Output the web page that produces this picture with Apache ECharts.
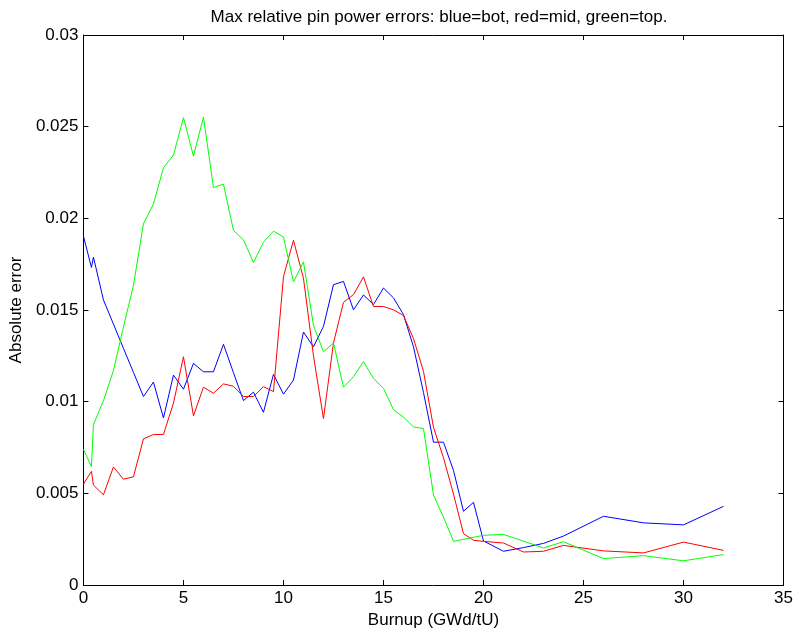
<!DOCTYPE html>
<html>
<head>
<meta charset="utf-8">
<script src="https://cdn.jsdelivr.net/npm/echarts@6/dist/echarts.min.js"></script>
<style>
  html, body { margin: 0; padding: 0; background: #fff; }
  #chart { width: 796px; height: 634px; }
</style>
</head>
<body>
<div id="chart"></div>
<script>
// Burnup points (GWd/tU) for each axial zone
const burnupBot = [0, 0.4, 0.5, 1, 1.5, 2, 2.5, 3, 3.5, 4, 4.5, 5, 5.5, 6, 6.5, 7, 7.5, 8, 8.5, 9, 9.5, 10,
  10.5, 11, 11.5, 12, 12.5, 13, 13.5, 14, 14.5, 15, 15.5, 16, 16.5, 17, 17.5, 18, 18.5, 19, 19.5, 20,
  21, 22, 23, 24, 26, 28, 30, 32];
const burnupMid = burnupBot.slice();
const burnupTop = [0, 0.4, 0.5, 1, 1.5, 2, 2.5, 3, 3.5, 4, 4.5, 5, 5.5, 6, 6.5, 7, 7.5, 8, 8.5, 9, 9.5, 10,
  10.5, 11, 11.5, 12, 12.5, 13, 13.5, 14, 14.5, 15, 15.5, 16, 16.5, 17, 17.5, 18, 18.5,
  20, 21, 23, 24, 26, 28, 30, 32];

// Max relative pin power errors
const errBot = [0.01903, 0.01732, 0.01789, 0.01555, 0.01423, 0.01291, 0.0116, 0.01028, 0.01107, 0.00911,
  0.01145, 0.01068, 0.01209, 0.01163, 0.01163, 0.01313, 0.01158, 0.01006, 0.01052, 0.00942, 0.01149,
  0.01041, 0.01118, 0.0138, 0.01299, 0.01411, 0.01638, 0.01656, 0.01501, 0.01582, 0.0153, 0.0162,
  0.01566, 0.01475, 0.01299, 0.0105, 0.00779, 0.00779, 0.00625, 0.00402, 0.00451, 0.0024,
  0.00184, 0.00204, 0.00227, 0.00267, 0.00375, 0.00339, 0.00328, 0.00429];
const errMid = [0.0055, 0.0062, 0.00545, 0.00492, 0.00644, 0.00577, 0.0059, 0.00797, 0.00821, 0.00821,
  0.00992, 0.01245, 0.00923, 0.01079, 0.01046, 0.01097, 0.01084, 0.01028, 0.01028, 0.01082, 0.01055,
  0.01682, 0.0188, 0.01673, 0.0125, 0.00908, 0.0132, 0.01542, 0.01584, 0.01681, 0.01519, 0.01519,
  0.01501, 0.0147, 0.01344, 0.01165, 0.0086, 0.00694, 0.00496, 0.0028, 0.00244, 0.00238,
  0.00229, 0.0018, 0.00184, 0.00216, 0.00186, 0.00175, 0.00234, 0.00189];
const errTop = [0.0074, 0.00646, 0.00875, 0.01005, 0.0117, 0.01407, 0.01635, 0.0197, 0.02078, 0.02276,
  0.02345, 0.02549, 0.02339, 0.02552, 0.02168, 0.02186, 0.01934, 0.01883, 0.01759, 0.0187, 0.0193,
  0.01898, 0.01654, 0.01763, 0.01416, 0.01272, 0.0132, 0.01079, 0.01136, 0.01218, 0.01127, 0.01073,
  0.00956, 0.00916, 0.00862, 0.00853, 0.00491, 0.0037, 0.00238,
  0.00271, 0.00276, 0.00202, 0.00236, 0.00144, 0.0016, 0.00132, 0.00166];

const titleText = 'Max relative pin power errors: blue=bot, red=mid, green=top.';
const xName = 'Burnup (GWd/tU)';
const yName = 'Absolute error';

const pairs = (xs, ys) => xs.map((x, i) => [x, ys[i]]);
const FONT = '"Liberation Sans", Arial, Helvetica, sans-serif';
const FS = 17;

const tickStyle = { show: true, inside: true, length: 5, lineStyle: { color: '#000', width: 1 } };
const lineAxis = { show: true, onZero: false, lineStyle: { color: '#000', width: 1 } };

const chart = echarts.init(document.getElementById('chart'), null, { renderer: 'canvas' });

function line(name, data, color) {
  return {
    name, type: 'line', data, showSymbol: false, symbol: 'none',
    lineStyle: { color, width: 1 }, itemStyle: { color },
    animation: false, z: 3
  };
}

chart.setOption({
  animation: false,
  backgroundColor: '#ffffff',
  title: {
    text: titleText, left: 434, top: 4, textAlign: 'center',
    textStyle: { fontFamily: FONT, fontSize: FS, fontWeight: 'normal', color: '#000' }
  },
  grid: { left: 82, right: 11, top: 35, bottom: 44, containLabel: false },
  xAxis: [{
    type: 'value', min: 0, max: 35, interval: 5,
    name: xName, nameLocation: 'middle', nameGap: 27,
    nameTextStyle: { fontFamily: FONT, fontSize: FS, color: '#000' },
    axisLine: lineAxis, axisTick: tickStyle, splitLine: { show: false },
    axisLabel: { fontFamily: FONT, fontSize: FS, color: '#000', margin: 5 }
  }, {
    type: 'value', min: 0, max: 35, interval: 5, position: 'top',
    axisLine: lineAxis, axisTick: tickStyle, splitLine: { show: false },
    axisLabel: { show: false }
  }],
  yAxis: [{
    type: 'value', min: 0, max: 0.03, interval: 0.005,
    name: yName, nameLocation: 'middle', nameGap: 56, nameRotate: 90,
    nameTextStyle: { fontFamily: FONT, fontSize: FS, color: '#000' },
    axisLine: lineAxis, axisTick: tickStyle, splitLine: { show: false },
    axisLabel: { fontFamily: FONT, fontSize: FS, color: '#000', margin: 5 }
  }, {
    type: 'value', min: 0, max: 0.03, interval: 0.005, position: 'right',
    axisLine: lineAxis, axisTick: tickStyle, splitLine: { show: false },
    axisLabel: { show: false }
  }],
  series: [
    line('bot', pairs(burnupBot, errBot), '#0000ff'),
    line('mid', pairs(burnupMid, errMid), '#ff0000'),
    line('top', pairs(burnupTop, errTop), '#00ff00')
  ]
});
</script>
</body>
</html>
